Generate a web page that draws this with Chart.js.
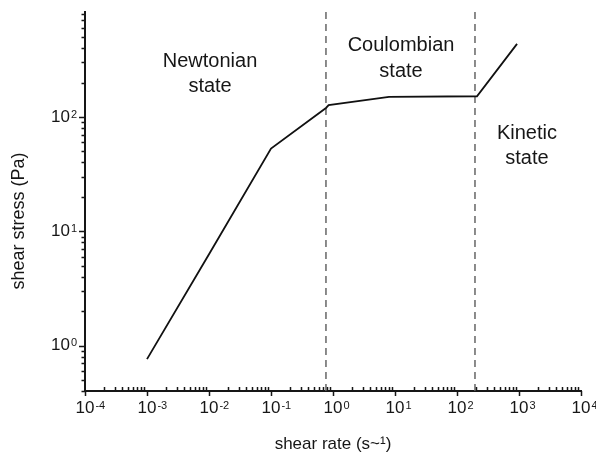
<!DOCTYPE html>
<html>
<head>
<meta charset="utf-8">
<script src="https://cdn.jsdelivr.net/npm/chart.js@4.4.1/dist/chart.umd.min.js"></script>
<style>
  html, body { margin: 0; padding: 0; background: #fff; }
  canvas { display: block; }
</style>
</head>
<body>
<canvas id="chart" width="596" height="455"></canvas>
<script>
// ============================================================
//  Flow curve: shear stress vs shear rate (log-log)
// ============================================================

// values
var shearRate   = [0.001, 0.01, 0.1, 0.77, 0.85, 8, 210, 930];
var shearStress = [0.76, 6.3, 53, 120, 127, 150, 152, 437];

// regime boundaries (dashed verticals)
var boundaryRates = [0.77, 195];

// decade tick labels (exponents of 10)
var xTickExps = ['-4', '-3', '-2', '-1', '0', '1', '2', '3', '4'];
var yTickExps = ['0', '1', '2'];

// regime names
var stateNames = [['Newtonian', 'state'], ['Coulombian', 'state'], ['Kinetic', 'state']];

var X_MIN = 1e-4, X_MAX = 1e4;
var Y_MIN = 0.4,  Y_MAX = 830;
var FONT = '"Liberation Sans", Arial, Helvetica, sans-serif';
var INK = '#161616';

// where the state names sit (in data units)
var stateAnchors = [
  { x: 0.0104, y: 307 },
  { x: 12.5,   y: 420 },
  { x: 1345,   y: 72 }
];

var datasets = boundaryRates.map(function (r) {
  return {
    data: [{ x: r, y: Y_MIN }, { x: r, y: Y_MAX }],
    borderColor: '#666',
    borderWidth: 1.5,
    borderDash: [7, 5],
    pointRadius: 0,
    order: 2
  };
});
datasets.push({
  data: shearRate.map(function (x, i) { return { x: x, y: shearStress[i] }; }),
  borderColor: '#111',
  borderWidth: 1.8,
  pointRadius: 0,
  tension: 0,
  order: 1
});

// draws "10" with a raised exponent; ax = 'x' centres the 10 on px, 'y' right-aligns the whole label at px
function drawPow(ctx, exp, px, py, ax) {
  ctx.font = '17px ' + FONT;
  var wBase = ctx.measureText('10').width;
  ctx.font = '11px ' + FONT;
  var wExp = ctx.measureText(exp).width;
  var left = ax === 'x' ? px - wBase / 2 : px - wBase - wExp - 1;
  ctx.textAlign = 'left';
  ctx.textBaseline = 'middle';
  ctx.font = '17px ' + FONT;
  ctx.fillText('10', left, py);
  ctx.font = '11px ' + FONT;
  ctx.textBaseline = 'top';
  ctx.fillText(exp, left + wBase + 1, py - 8);
}

var axisDecor = {
  id: 'axisDecor',
  afterDraw: function (chart) {
    var ctx = chart.ctx;
    var xs = chart.scales.x, ys = chart.scales.y, area = chart.chartArea;
    ctx.save();
    ctx.strokeStyle = INK;
    ctx.fillStyle = INK;
    ctx.lineWidth = 1.5;

    // x ticks: minor inside, major outside
    var e, m, p;
    ctx.beginPath();
    for (e = -4; e <= 4; e++) {
      p = Math.round(xs.getPixelForValue(Math.pow(10, e))) + 0.5;
      ctx.moveTo(p, area.bottom); ctx.lineTo(p, area.bottom + 5);
      if (e === 4) continue;
      for (m = 2; m <= 9; m++) {
        p = Math.round(xs.getPixelForValue(m * Math.pow(10, e))) + 0.5;
        ctx.moveTo(p, area.bottom); ctx.lineTo(p, area.bottom - 4);
      }
    }
    // y ticks: all outside
    for (e = -1; e <= 2; e++) {
      for (m = 1; m <= 9; m++) {
        var v = m * Math.pow(10, e);
        if (v < Y_MIN || v > Y_MAX) continue;
        p = Math.round(ys.getPixelForValue(v)) + 0.5;
        ctx.moveTo(area.left, p); ctx.lineTo(area.left - (m === 1 ? 6 : 3.5), p);
      }
    }
    ctx.stroke();

    // decade labels
    xTickExps.forEach(function (ex) {
      drawPow(ctx, ex, xs.getPixelForValue(Math.pow(10, +ex)), area.bottom + 17, 'x');
    });
    yTickExps.forEach(function (ex) {
      drawPow(ctx, ex, area.left - 8, ys.getPixelForValue(Math.pow(10, +ex)), 'y');
    });

    // y axis title
    ctx.save();
    ctx.translate(19, 221);
    ctx.rotate(-Math.PI / 2);
    ctx.font = '18px ' + FONT;
    ctx.textAlign = 'center';
    ctx.textBaseline = 'middle';
    ctx.fillText('shear stress (Pa)', 0, 0);
    ctx.restore();

    // state names
    ctx.font = '20px ' + FONT;
    ctx.textAlign = 'center';
    ctx.textBaseline = 'middle';
    stateNames.forEach(function (lines, i) {
      var cx = xs.getPixelForValue(stateAnchors[i].x);
      var cy = ys.getPixelForValue(stateAnchors[i].y);
      lines.forEach(function (t, j) { ctx.fillText(t, cx, cy + j * 25.5); });
    });
    ctx.restore();
  }
};

new Chart(document.getElementById('chart'), {
  type: 'line',
  data: { datasets: datasets },
  options: {
    responsive: false,
    animation: false,
    layout: { padding: { top: 12, right: 15, bottom: 0, left: 0 } },
    plugins: { legend: { display: false }, tooltip: { enabled: false } },
    scales: {
      x: {
        type: 'logarithmic',
        min: X_MIN,
        max: X_MAX,
        grid: { display: false },
        border: { display: true, color: INK, width: 2 },
        ticks: { display: false },
        title: {
          display: true,
          text: 'shear rate (s~¹)',
          color: INK,
          font: { family: FONT, size: 17 },
          padding: { top: 6, bottom: 0 }
        },
        afterFit: function (scale) { scale.height = 64; }
      },
      y: {
        type: 'logarithmic',
        min: Y_MIN,
        max: Y_MAX,
        grid: { display: false },
        border: { display: true, color: INK, width: 2 },
        ticks: { display: false },
        afterFit: function (scale) { scale.width = 85; }
      }
    }
  },
  plugins: [axisDecor]
});
</script>
</body>
</html>
